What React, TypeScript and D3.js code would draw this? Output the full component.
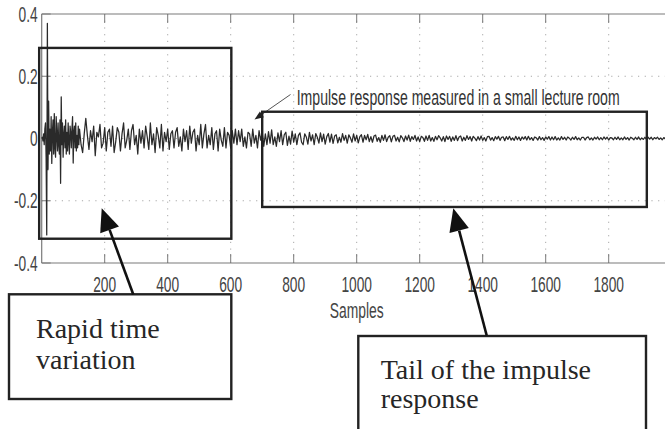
import React from "react";
import * as d3 from "d3";

// ---------- data ----------
const xTicks = [200, 400, 600, 800, 1000, 1200, 1400, 1600, 1800, 2000];
const yTicks = [-0.4, -0.2, 0, 0.2, 0.4];
const yTickLabels = ["-0.4", "-0.2", "0", "0.2", "0.4"];
const xLabel = "Samples";
const annotationText = "Impulse response measured in a small lecture room";

// onset: samples 0,2,4,...,118
const onsetStep = 2;
const onsetValues = [
  0, 0.004, -0.008, 0.015, -0.02, 0.03, 0.05, -0.06, -0.31, 0.37,
  -0.1, 0.12, -0.05, 0.03, -0.04, 0.07, -0.08, 0.02, 0.06, -0.05,
  0.08, -0.03, -0.06, 0.07, 0.01, -0.04, 0.05, -0.02, -0.05, 0.06,
  -0.144, 0.134, -0.02, 0.05, -0.06, 0.01, 0.04, -0.03, 0.06, -0.05,
  0.02, -0.04, 0.05, -0.01, -0.05, 0.04, 0.02, -0.03, 0.03, 0.07,
  -0.079, 0.02, 0.04, -0.03, 0.05, -0.04, 0.01, -0.03, 0.04, -0.02,
];

// tail: samples 120,125,...,1995
const tailStart = 120;
const tailStep = 5;
const tailValues = [
  0.03, -0.02, -0.045, 0.015, 0.065, 0.01, -0.035, 0.025, -0.01, 0.04, -0.055, 0.02, 0.005, 0.045, -0.03, -0.015, 0.035, -0.04, 0.02, 0.03,
  -0.025, 0.04, -0.045, -0.01, 0.035, 0.02, -0.04, 0.015, 0.05, -0.03, -0.005, 0.03, -0.035, 0.025, 0.045, -0.02, 0.01, -0.05, 0.03, -0.015,
  0.025, -0.03, 0.04, 0.005, -0.035, 0.05, -0.02, 0.015, -0.045, 0.035, 0.01, -0.03, 0.045, -0.04, 0.02, -0.01, 0.03, -0.035, 0.015, 0.025,
  -0.03, 0.02, 0.035, -0.025, 0.005, -0.04, 0.03, -0.01, 0.025, -0.035, 0.04, -0.015, 0.02, 0.03, -0.04, 0.01, -0.02, 0.045, -0.03, 0.015,
  0.045, -0.03, 0.01, -0.02, 0.035, -0.035, 0.015, 0.025, -0.04, 0.03, -0.005, -0.025, 0.035, -0.03, 0.02, 0.01, -0.03, 0.025, -0.015, 0.03,
  -0.02, 0.025, -0.01, 0.03, -0.025, 0.005, -0.03, 0.02, 0.015, -0.025, 0.03, -0.015, 0.01, -0.03, 0.025, -0.005, 0.02, -0.025, 0.015, -0.02,
  0.022, -0.015, 0.028, -0.02, 0.005, -0.025, 0.018, -0.01, 0.025, -0.02, 0.012, 0.02, -0.022, 0.008, -0.018, 0.024, -0.012, 0.015, -0.02, 0.01,
  0.018, -0.012, -0.02, 0.015, 0.005, -0.018, 0.02, -0.008, 0.012, -0.02, 0.016, 0.004, -0.015, 0.018, -0.01, 0.014, -0.018, 0.006, 0.016, -0.012,
  0.014, -0.016, 0.008, 0.012, -0.014, 0.004, -0.012, 0.016, -0.006, 0.01, -0.015, 0.012, 0.002, -0.012, 0.015, -0.008, 0.01, -0.014, 0.006, 0.012,
  -0.012, 0.01, -0.004, 0.013, -0.01, 0.006, -0.012, 0.008, 0.011, -0.009, 0.003, -0.012, 0.01, -0.006, 0.012, -0.01, 0.004, 0.009, -0.011, 0.007,
  0.01, -0.008, 0.004, -0.011, 0.009, 0.002, -0.01, 0.008, -0.005, 0.011, -0.009, 0.006, -0.003, 0.01, -0.008, 0.005, -0.01, 0.007, 0.003, -0.009,
  0.008, -0.006, 0.01, -0.008, 0.003, -0.009, 0.007, -0.004, 0.009, 0.002, -0.008, 0.006, -0.01, 0.008, -0.003, 0.007, -0.009, 0.005, -0.006, 0.009,
  -0.007, 0.005, 0.008, -0.008, 0.004, -0.006, 0.009, -0.003, 0.006, -0.008, 0.007, 0.001, -0.007, 0.006, -0.005, 0.008, -0.006, 0.003, -0.008, 0.006,
  0.007, -0.005, 0.003, -0.007, 0.006, -0.002, 0.007, -0.006, 0.004, 0.005, -0.007, 0.006, -0.003, 0.007, -0.005, 0.002, -0.006, 0.007, -0.004, 0.005,
  -0.006, 0.005, -0.002, 0.006, -0.005, 0.007, -0.004, 0.003, -0.006, 0.005, 0.002, -0.005, 0.006, -0.004, 0.003, -0.006, 0.005, -0.002, 0.006, -0.005,
  0.005, -0.004, 0.006, -0.005, 0.002, -0.005, 0.006, -0.003, 0.004, -0.005, 0.005, 0.001, -0.005, 0.004, -0.003, 0.006, -0.004, 0.002, -0.005, 0.004,
  0.004, -0.005, 0.003, 0.005, -0.004, 0.002, -0.005, 0.004, -0.002, 0.005, -0.004, 0.003, -0.004, 0.005, -0.002, 0.004, -0.005, 0.003, 0.002, -0.004,
  0.004, -0.003, 0.005, -0.004, 0.002, -0.004, 0.005, -0.003, 0.003, -0.005, 0.004, 0.001, -0.004, 0.004, -0.003, 0.005, -0.004, 0.002, -0.003, 0.004,
  -0.003, 0.004, -0.002, 0.004, -0.004, 0.003, -0.001, 0.004, -0.003, 0.002, -0.004, 0.003, -0.002, 0.004, -0.003, 0.002,
];

// annotation regions in data coordinates
const rapidRegion = { x0: -8, x1: 602, y0: -0.322, y1: 0.291 };
const tailRegion = { x0: 700, x1: 1921, y0: -0.22, y1: 0.086 };
const rapidLines = ["Rapid time", "variation"];
const tailLines = ["Tail of the impulse", "response"];

// ---------- layout ----------
const W = 665;
const H = 429;
const PLOT_L = 41.7;
const PLOT_R = 671.7;
const PLOT_T = 14;
const PLOT_B = 263;

function arrowHead(x1: number, y1: number, x2: number, y2: number, len: number, wid: number) {
  const dx = x2 - x1;
  const dy = y2 - y1;
  const L = Math.hypot(dx, dy);
  const ux = dx / L;
  const uy = dy / L;
  const bx = x2 - ux * len;
  const by = y2 - uy * len;
  const px = -uy * (wid / 2);
  const py = ux * (wid / 2);
  return {
    pts: `${x2},${y2} ${bx + px},${by + py} ${bx - px},${by - py}`,
    bx,
    by,
  };
}

export default function App() {
  const x = d3.scaleLinear().domain([0, 2000]).range([PLOT_L, PLOT_R]);
  const y = d3.scaleLinear().domain([-0.4, 0.4]).range([PLOT_B, PLOT_T]);

  const pts: [number, number][] = [];
  onsetValues.forEach((v, i) => pts.push([i * onsetStep, v]));
  tailValues.forEach((v, i) => pts.push([tailStart + i * tailStep, v]));
  const line = d3
    .line<[number, number]>()
    .x((d) => x(d[0]))
    .y((d) => y(d[1]));

  const axisColor = "#7a7a7a";
  const gridColor = "#a8a8a8";
  const tickLen = 9;
  const sansFont = "'Liberation Sans', Arial, sans-serif";
  const serifFont = "'Liberation Serif', 'Times New Roman', serif";
  const sx = 0.64;

  // arrows (tail at text box, tip near region box)
  const a1 = { x1: 133.3, y1: 294.5, x2: 101.7, y2: 208.3 };
  const a2 = { x1: 486.7, y1: 335.5, x2: 453.3, y2: 208.3 };
  const h1 = arrowHead(a1.x1, a1.y1, a1.x2, a1.y2, 23, 20);
  const h2 = arrowHead(a2.x1, a2.y1, a2.x2, a2.y2, 23, 20);
  const lead = { x1: 290.5, y1: 94.5, x2: 254.5, y2: 119.5 };
  const h3 = arrowHead(lead.x1, lead.y1, lead.x2, lead.y2, 9, 7);

  return (
    <svg
      width={W}
      height={H}
      style={{ position: "absolute", left: 0, top: 0, background: "#fff" }}
    >
      <rect x={0} y={0} width={W} height={H} fill="#fff" />
      {/* grid */}
      {xTicks.map((t) => (
        <line
          key={"gx" + t}
          x1={x(t)}
          x2={x(t)}
          y1={PLOT_T}
          y2={PLOT_B}
          stroke={gridColor}
          strokeWidth={1}
          strokeDasharray="1.2,5.5"
        />
      ))}
      {yTicks.slice(1, -1).map((t) => (
        <line
          key={"gy" + t}
          x1={PLOT_L}
          x2={PLOT_R}
          y1={y(t)}
          y2={y(t)}
          stroke={gridColor}
          strokeWidth={1}
          strokeDasharray="1.2,5.5"
        />
      ))}
      {/* axes box */}
      <line x1={PLOT_L} x2={PLOT_R} y1={PLOT_T} y2={PLOT_T} stroke={axisColor} strokeWidth={1.2} />
      <line x1={PLOT_L} x2={PLOT_R} y1={PLOT_B} y2={PLOT_B} stroke={axisColor} strokeWidth={1.2} />
      <line x1={PLOT_L} x2={PLOT_L} y1={PLOT_T} y2={PLOT_B} stroke={axisColor} strokeWidth={1.2} />
      {/* ticks */}
      {xTicks.map((t) => (
        <g key={"tx" + t}>
          <line x1={x(t)} x2={x(t)} y1={PLOT_B} y2={PLOT_B - tickLen} stroke={axisColor} strokeWidth={1} />
          <line x1={x(t)} x2={x(t)} y1={PLOT_T} y2={PLOT_T + tickLen} stroke={axisColor} strokeWidth={1} />
          {t < 2000 && (
            <text
              transform={`translate(${x(t)},${PLOT_B + 28.5}) scale(${sx},1)`}
              textAnchor="middle"
              fontFamily={sansFont}
              fontSize={21.5}
              fill="#444"
            >
              {t}
            </text>
          )}
        </g>
      ))}
      {yTicks.map((t, i) => (
        <g key={"ty" + t}>
          <line x1={PLOT_L} x2={PLOT_L + tickLen} y1={y(t)} y2={y(t)} stroke={axisColor} strokeWidth={1} />
          <text
            transform={`translate(${PLOT_L - 4},${y(t) + 7.5}) scale(${sx},1)`}
            textAnchor="end"
            fontFamily={sansFont}
            fontSize={21.5}
            fill="#444"
          >
            {yTickLabels[i]}
          </text>
        </g>
      ))}
      <text
        transform={`translate(${x(1000)},${317.7}) scale(0.63,1)`}
        textAnchor="middle"
        fontFamily={sansFont}
        fontSize={22}
        fill="#444"
      >
        {xLabel}
      </text>
      {/* signal */}
      <path d={line(pts) || ""} fill="none" stroke="#2a2a2a" strokeWidth={1.25} strokeLinejoin="round" />
      {/* annotation text with leader */}
      <text
        transform={`translate(296.7,105) scale(${sx},1)`}
        fontFamily={sansFont}
        fontSize={22}
        fill="#333"
      >
        {annotationText}
      </text>
      <line x1={lead.x1} y1={lead.y1} x2={h3.bx} y2={h3.by} stroke="#555" strokeWidth={1} />
      <polygon points={h3.pts} fill="#222" />
      {/* region boxes */}
      {[rapidRegion, tailRegion].map((r, i) => (
        <rect
          key={"rg" + i}
          x={x(r.x0)}
          y={y(r.y1)}
          width={x(r.x1) - x(r.x0)}
          height={y(r.y0) - y(r.y1)}
          fill="none"
          stroke="#222"
          strokeWidth={2.4}
        />
      ))}
      {/* text boxes */}
      <rect x={9} y={294.3} width={222.3} height={104.7} fill="#fff" stroke="#222" strokeWidth={2.4} />
      {rapidLines.map((s, i) => (
        <text key={"rl" + i} x={36} y={338.3 + i * 31} fontFamily={serifFont} fontSize={28} fill="#262626">
          {s}
        </text>
      ))}
      <rect x={358.3} y={336} width={287.7} height={110} fill="#fff" stroke="#222" strokeWidth={2.4} />
      {tailLines.map((s, i) => (
        <text key={"tl" + i} x={380.7} y={379 + i * 29.3} fontFamily={serifFont} fontSize={28} fill="#262626">
          {s}
        </text>
      ))}
      {/* arrows */}
      <line x1={a1.x1} y1={a1.y1} x2={h1.bx} y2={h1.by} stroke="#111" strokeWidth={2.6} />
      <polygon points={h1.pts} fill="#111" />
      <line x1={a2.x1} y1={a2.y1} x2={h2.bx} y2={h2.by} stroke="#111" strokeWidth={2.6} />
      <polygon points={h2.pts} fill="#111" />
    </svg>
  );
}
